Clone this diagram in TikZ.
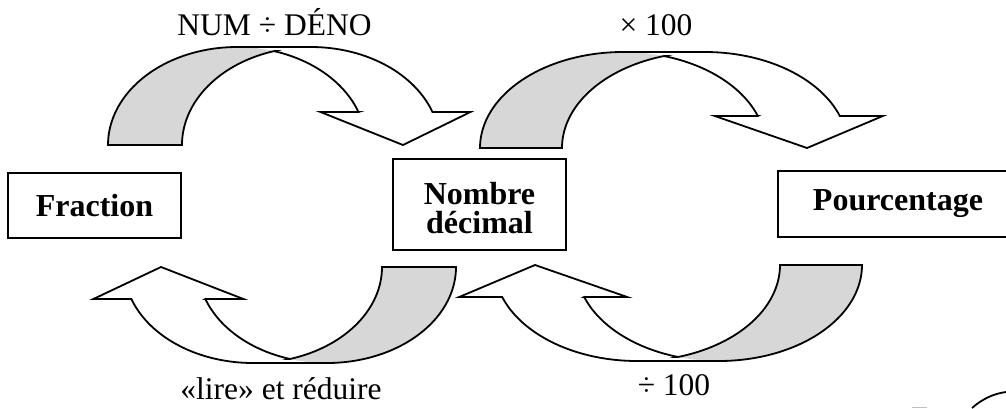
\documentclass[tikz,border=0pt]{standalone}
\usepackage{fontspec}
\setmainfont{Liberation Serif}
\definecolor{arrowgray}{RGB}{215,215,215}
\tikzset{
  arrowline/.style={draw=black, line width=1.8pt, line join=miter, miter limit=10},
  box/.style={draw=black, line width=1.8pt, font=\fontsize{32}{36}\selectfont\bfseries, inner sep=0pt, minimum width=173pt},
  lbl/.style={font=\fontsize{31.5}{36}\selectfont, anchor=base, inner sep=0pt},
  arcplot/.style={samples=60},
}
% curved block arrow (local frame, y pointing down): width, height, band, head width, head length
\newcommand\carrow[5]{%
  \pgfmathsetmacro\caW{#1}\pgfmathsetmacro\caH{#2}\pgfmathsetmacro\caT{#3}%
  \pgfmathsetmacro\caA{#4}\pgfmathsetmacro\caAh{#5}%
  \pgfmathsetmacro\caR{\caW/2-(\caT+\caA)/4}%
  \pgfmathsetmacro\caDx{\caR*sqrt(1-(\caAh/\caH)^2)}%
  \pgfmathsetmacro\caYa{\caH-\caAh}%
  \pgfmathsetmacro\caXf{\caR+\caDx}%
  \pgfmathsetmacro\caXs{\caR+\caT+\caDx}%
  \pgfmathsetmacro\caDh{(\caA-\caT)/2}%
  \pgfmathsetmacro\caXd{\caXf-\caDh}%
  \pgfmathsetmacro\caXe{\caXs+\caDh}%
  \pgfmathsetmacro\caXt{\caW-\caA/2}%
  \pgfmathsetmacro\caTf{-asin(\caAh/\caH)}%
  \pgfmathsetmacro\caTi{acos(\caT/(2*\caR))}%
  \pgfmathsetmacro\caTa{-180+\caTi}%
  \pgfmathsetmacro\caTb{-\caTi}%
  \pgfmathsetmacro\caIx{\caR+\caT/2}%
  \pgfmathsetmacro\caIy{\caH-\caH*sin(\caTi)}%
  \pgfmathsetmacro\caRt{\caR+\caT}%
  \fill[white] (\caXt,\caH) -- (\caXd,\caYa) -- (\caXf,\caYa)
    -- plot[arcplot,domain=\caTf:-90] ({\caR+\caR*cos(\x)},{\caH+\caH*sin(\x)})
    -- (\caRt,0)
    -- plot[arcplot,domain=-90:\caTf] ({\caRt+\caR*cos(\x)},{\caH+\caH*sin(\x)})
    -- (\caXe,\caYa) -- cycle;
  \fill[arrowgray] (\caIx,\caIy)
    -- plot[arcplot,domain=\caTa:-180] ({\caRt+\caR*cos(\x)},{\caH+\caH*sin(\x)})
    -- (0,\caH)
    -- plot[arcplot,domain=-180:\caTb] ({\caR+\caR*cos(\x)},{\caH+\caH*sin(\x)})
    -- cycle;
  \draw[arrowline] (\caIx,\caIy)
    -- plot[arcplot,domain=\caTa:-180] ({\caRt+\caR*cos(\x)},{\caH+\caH*sin(\x)})
    -- (0,\caH)
    -- plot[arcplot,domain=-180:-90] ({\caR+\caR*cos(\x)},{\caH+\caH*sin(\x)})
    -- (\caRt,0)
    -- plot[arcplot,domain=-90:\caTf] ({\caRt+\caR*cos(\x)},{\caH+\caH*sin(\x)})
    -- (\caXe,\caYa) -- (\caXt,\caH) -- (\caXd,\caYa) -- (\caXf,\caYa)
    -- plot[arcplot,domain=\caTf:\caTb] ({\caR+\caR*cos(\x)},{\caH+\caH*sin(\x)});
}
\begin{document}
\begin{tikzpicture}[x=1pt,y=-1pt]
  \useasboundingbox (0,0) rectangle (1006,408);
  \clip (0,0) rectangle (1006,408);
  \fill[white] (0,0) rectangle (1006,408);

  % boxes
  \node[box, minimum height=65pt] (frac) at (94.5,205.5) {Fraction};
  \node[box, minimum height=91pt, align=center,
        font=\fontsize{32}{29}\selectfont\bfseries] (dec) at (479.5,204.5)
        {\rule{0pt}{30pt}Nombre\\décimal};
  \node[box, minimum height=66pt, minimum width=240pt] (pct) at (898,204) {Pourcentage};

  % curved arrows
  \begin{scope}[shift={(108,47)}]\carrow{370}{98}{74}{150}{33}\end{scope}
  \begin{scope}[shift={(480,52)}]\carrow{411}{96}{82}{168}{32}\end{scope}
  \begin{scope}[shift={(456,363)},rotate=180]\carrow{370}{96}{74}{150}{32}\end{scope}
  \begin{scope}[shift={(862,361)},rotate=180]\carrow{411}{96}{82}{168}{32}\end{scope}

  % labels
  \node[lbl] (l1) at (274.5,35) {NUM ÷ DÉNO};
  \node[lbl] (l2) at (656,35) {× 100};
  \node[lbl] (l3) at (281,399) {«lire» et réduire};
  \node[lbl] (l4) at (674,395) {÷ 100};

  % partial shape at the lower right corner
  \draw[line width=1.8pt] (972,408) .. controls (982,399) and (994,393.5) .. (1006,392);
  \draw[black!25, line width=1.5pt] (912,407.5) -- (927,407.5);
\end{tikzpicture}
\end{document}
